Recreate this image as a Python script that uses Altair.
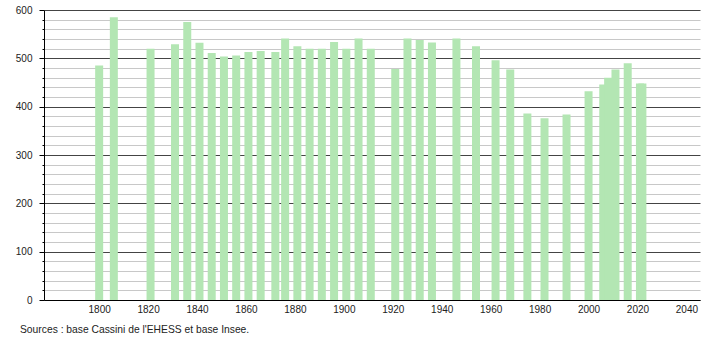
import altair as alt
import pandas as pd

years = [1800, 1806, 1821, 1831, 1836, 1841, 1846, 1851, 1856, 1861, 1866, 1872,
         1876, 1881, 1886, 1891, 1896, 1901, 1906, 1911, 1921, 1926, 1931, 1936,
         1946, 1954, 1962, 1968, 1975, 1982, 1991, 2000, 2006, 2008, 2011, 2016,
         2021, 2022]
population = [485, 585, 520, 529, 575, 532, 511, 504, 506, 513, 515, 513,
              541, 525, 520, 520, 534, 520, 541, 520, 478, 541, 538, 533,
              541, 525, 496, 477, 386, 376, 384, 432, 446, 460, 477, 490,
              448, 448]
x_ticks = list(range(1800, 2041, 20))
y_ticks = list(range(0, 601, 20))
source = "Sources : base Cassini de l'EHESS et base Insee."

df = pd.DataFrame({"year": years, "pop": population})

font = "Liberation Sans"

chart = alt.Chart(df).mark_bar(size=8, color="#b3e6b3").encode(
    x=alt.X("year:Q",
            scale=alt.Scale(domain=[1779.5, 2043.5], nice=False, zero=False),
            axis=alt.Axis(values=x_ticks, format="d", title=None, ticks=False,
                          grid=False, domainColor="#000", domainWidth=1,
                          labelFont=font, labelFontSize=10, labelColor="#222",
                          labelPadding=4)),
    y=alt.Y("pop:Q",
            scale=alt.Scale(domain=[0, 600], nice=False),
            axis=alt.Axis(values=y_ticks, title=None,
                          labelExpr="datum.value % 100 === 0 ? datum.label : ''",
                          grid=True,
                          gridColor={"condition": {"test": "datum.value % 100 === 0", "value": "#444"}, "value": "#c8c8c8"},
                          gridWidth=1,
                          tickSize={"condition": {"test": "datum.value % 100 === 0", "value": 5}, "value": 2},
                          tickColor="#000", domainColor="#000", domainWidth=1,
                          labelFont=font, labelFontSize=10, labelColor="#222",
                          labelPadding=7)),
).properties(
    width=656, height=290,
    title=alt.TitleParams(source, orient="bottom", anchor="start", frame="group",
                          font=font, fontSize=10.3, fontWeight="normal",
                          color="#222", dx=-24, offset=11),
    autosize=alt.AutoSizeParams(type="none"),
    padding={"left": 44, "top": 10, "right": 10, "bottom": 40},
).configure_view(stroke=None)

chart.save("out.html", embed_options={"renderer": "svg", "actions": False})
